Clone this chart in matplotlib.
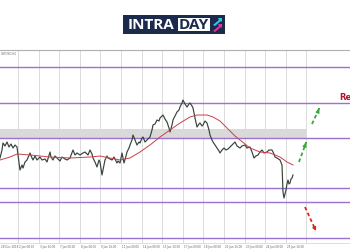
import matplotlib
matplotlib.use("Agg")
import matplotlib.pyplot as plt
from matplotlib.patches import Rectangle, Polygon

# ---- data (x = bar position, price in chart units) ----
bar_x = [0, 2, 3, 5, 7, 9, 11, 13, 15, 17, 18, 20, 22, 23, 25, 27, 30, 32, 33, 35, 37, 40, 42, 45, 47,
         50, 51, 53, 55, 57, 60, 62, 65, 67, 70, 73, 75, 77, 80, 83, 85, 88, 90, 92, 93, 95, 97, 99,
         100, 102, 104, 105, 107, 108, 110, 112, 114, 115, 117, 118, 120, 122, 124, 126, 127, 129,
         130, 132, 133, 135, 137, 139, 140, 142, 143, 145, 146, 148, 150, 152, 153, 155, 157, 159,
         160, 162, 163, 165, 167, 169, 170, 172, 173, 175, 177, 179, 180, 182, 183, 185, 187, 189,
         190, 192, 193, 195, 197, 199, 200, 202, 203, 205, 207, 209, 210, 212, 213, 215, 217, 219,
         220, 222, 224, 226, 228, 230, 232, 235, 237, 240, 242, 245, 247, 250, 252, 254, 256, 258,
         260, 262, 264, 267, 269, 272, 274, 275, 277, 280, 282, 283, 284, 285, 286, 287, 288, 289,
         290, 291, 292, 293]
price = [92, 100, 107, 104, 108, 103, 106, 102, 105, 103, 95, 80, 85, 82, 88, 90, 97, 92, 90, 94, 90,
         93, 90, 91, 88, 98, 93, 90, 94, 92, 89, 93, 91, 90, 92, 100, 95, 97, 95, 97, 98, 95, 100, 96,
         92, 88, 83, 90, 88, 75, 85, 90, 94, 92, 91, 90, 93, 91, 87, 89, 87, 97, 87, 94, 98, 102,
         105, 110, 115, 110, 105, 108, 107, 112, 113, 108, 109, 111, 113, 120, 125, 126, 130, 129,
         132, 134, 135, 131, 128, 122, 118, 125, 130, 134, 138, 140, 143, 147, 150, 146, 143, 146,
         147, 144, 142, 132, 123, 126, 127, 124, 125, 129, 127, 120, 115, 110, 108, 105, 102, 99,
         97, 100, 102, 100, 101, 103, 105, 108, 104, 102, 104, 105, 102, 103, 98, 92, 94, 95,
         98, 100, 97, 98, 100, 100, 96, 93, 92, 90, 85, 58, 52, 56, 60, 66, 70, 66,
         67, 71, 72, 75]
ma_x = [0, 10, 17, 30, 50, 70, 90, 100, 110, 120, 130, 140, 150, 160, 170, 180, 190, 197, 207, 213,
        220, 227, 235, 240, 250, 260, 270, 280, 287, 293]
ma = [90, 93, 96, 95, 93, 92, 93, 94, 92, 90, 92, 98, 105, 113, 120, 127, 133, 135, 135, 133,
      129, 122, 114, 110, 102, 98, 97, 93, 88, 85]

levels = [183.5, 147.5, 112, 62, 48, 12]
zone = (112, 121)
grid_x = [18 + 20.6 * k for k in range(15)]
date_labels = ["28 Dec 2018", "2 Jan 08:00", "3 Jan 16:00", "7 Jan 00:00", "8 Jan 08:00",
               "9 Jan 16:00", "11 Jan 00:00", "14 Jan 08:00", "15 Jan 16:00", "17 Jan 00:00",
               "18 Jan 08:00", "21 Jan 16:00", "23 Jan 00:00", "24 Jan 08:00", "25 Jan 16:00"]
up_arrows = [((299, 88), (307, 110)), ((312, 126), (320, 144))]
down_arrow = ((305, 43), (316, 19))

PURPLE = "#9a72cf"
fig = plt.figure(figsize=(3.5, 2.5), dpi=100)
fig.patch.set_facecolor("white")
ax = fig.add_axes([0, 7 / 250, 1, 193 / 250])
ax.set_xlim(0, 350)
ax.set_ylim(7, 200)

for gx in grid_x:
    ax.axvline(gx, color="#d6d6d6", lw=0.6, zorder=0)
ax.add_patch(Rectangle((0, zone[0]), 306, zone[1] - zone[0], color="#d9d9d9", lw=0, zorder=1))
for lv in levels:
    ax.axhline(lv, color=PURPLE, lw=1.0, zorder=2)

ax.plot(bar_x, price, color="#36423a", lw=0.85, zorder=4)
ax.plot(ma_x, ma, color="#c8404a", lw=0.7, zorder=5)

for (x0, y0), (x1, y1) in up_arrows:
    ax.plot([x0, x1 - 1.2], [y0, y1 - 3.3], color="#38a838", lw=1.3, ls=(0, (2, 1.5)), zorder=6)
    ax.annotate("", xy=(x1, y1), xytext=(x1 - 2, y1 - 5.5),
                arrowprops=dict(arrowstyle="-|>", color="#38a838", lw=1, mutation_scale=5))
(x0, y0), (x1, y1) = down_arrow
ax.plot([x0, x1 - 1.2], [y0, y1 + 2.6], color="#e02424", lw=1.3, ls=(0, (2, 1.5)), zorder=6)
ax.annotate("", xy=(x1, y1), xytext=(x1 - 2.2, y1 + 4.8),
            arrowprops=dict(arrowstyle="-|>", color="#e02424", lw=1, mutation_scale=5))

ax.text(339, 153, "Resistance", color="#b0152c", fontsize=6, fontweight="bold",
        va="center", ha="left", clip_on=False)
ax.text(1, 198, "GBPUSD,H4", color="#777777", fontsize=2, va="top", ha="left")

ax.set_xticks([])
ax.set_yticks([])
label_x = [max(g - 20.6, 0) for g in grid_x]
for gx, lab in zip(label_x, date_labels):
    fig.text((gx + 1) / 350, 1 - 247 / 250, lab, fontsize=2, color="#666666", ha="left", va="center")
for s in ["left", "right"]:
    ax.spines[s].set_visible(False)
ax.spines["top"].set_color("#b0b0b0")
ax.spines["top"].set_linewidth(0.8)
ax.spines["bottom"].set_color("#d0d0d0")
ax.spines["bottom"].set_linewidth(0.5)

# ---- INTRADAY logo ----
NAVY = "#1c2a4d"
fig.patches.append(Rectangle((123 / 350, 1 - 34 / 250), 102 / 350, 19 / 250,
                             transform=fig.transFigure, color=NAVY, lw=0))
fig.patches.append(Rectangle((178 / 350, 1 - 31 / 250), 32 / 350, 13 / 250,
                             transform=fig.transFigure, color="white", lw=0))
fig.text(151 / 350, 1 - 24.7 / 250, "INTRA", color="white", fontsize=11, fontweight="bold",
         family="Open Sans", ha="center", va="center")
fig.text(194 / 350, 1 - 24.7 / 250, "DAY", color=NAVY, fontsize=11, fontweight="bold",
         family="Open Sans", ha="center", va="center")
fig.patches.append(Polygon([(213 / 350, 1 - 25 / 250), (219 / 350, 1 - 20 / 250), (218 / 350, 1 - 18 / 250),
                            (222 / 350, 1 - 18 / 250), (222 / 350, 1 - 22 / 250), (221 / 350, 1 - 21 / 250),
                            (215 / 350, 1 - 26 / 250)], closed=True, transform=fig.transFigure,
                           color="#36c6e0", lw=0))
fig.patches.append(Polygon([(213 / 350, 1 - 31 / 250), (219 / 350, 1 - 26 / 250), (218 / 350, 1 - 24 / 250),
                            (222 / 350, 1 - 24 / 250), (222 / 350, 1 - 28 / 250), (221 / 350, 1 - 27 / 250),
                            (215 / 350, 1 - 32 / 250)], closed=True, transform=fig.transFigure,
                           color="#e6339c", lw=0))

fig.savefig("out.png", dpi=100)
